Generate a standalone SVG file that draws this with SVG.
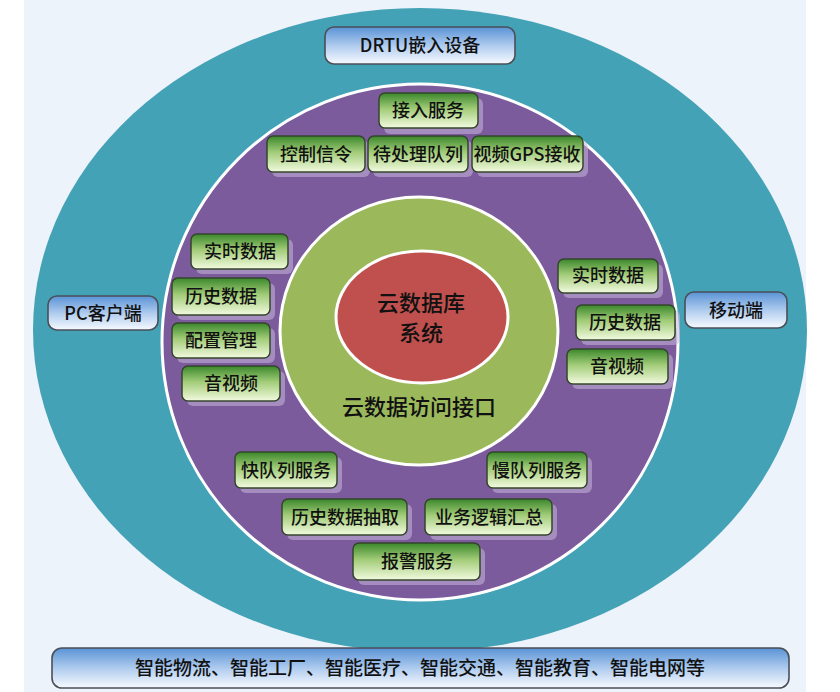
<svg xmlns="http://www.w3.org/2000/svg" width="840" height="692" viewBox="0 0 840 692">
<defs>
<linearGradient id="gg" x1="0" y1="0" x2="0" y2="1">
<stop offset="0" stop-color="#3a872b"/>
<stop offset="0.45" stop-color="#a2cc78"/>
<stop offset="1" stop-color="#f2fadf"/>
</linearGradient>
<linearGradient id="bg" x1="0" y1="0" x2="0" y2="1">
<stop offset="0" stop-color="#5a93d6"/>
<stop offset="0.55" stop-color="#b6d0f0"/>
<stop offset="1" stop-color="#f7faff"/>
</linearGradient>
<style>
.sh{fill:#c8b8dc;opacity:0.55}
.gb{fill:url(#gg);stroke:#34452c;stroke-width:1.5}
.bb{fill:url(#bg);stroke:#4a4f58;stroke-width:1.6}
text{font-family:"Noto Sans CJK SC","Liberation Sans",sans-serif;fill:#111;text-anchor:middle;font-weight:500}
.t{font-size:18px}
.tl{font-size:22px}
</style>
</defs>
<rect x="0" y="0" width="840" height="692" fill="#ffffff"/>
<rect x="24" y="0" width="782" height="692" fill="#edf3fb"/>
<g id="rings">
<ellipse cx="420" cy="330" rx="387" ry="322" fill="#43a2b6"/>
<circle cx="420" cy="342" r="258" fill="#7b5b9c" stroke="#ffffff" stroke-width="3"/>
<ellipse cx="419" cy="331" rx="139" ry="134" fill="#9bb95b" stroke="#ffffff" stroke-width="3"/>
<ellipse cx="422" cy="317" rx="86" ry="66" fill="#c0504d" stroke="#ffffff" stroke-width="3"/>
<text class="tl" x="421" y="311">云数据库</text>
<text class="tl" x="421" y="341">系统</text>
<text class="tl" x="419" y="415">云数据访问接口</text>
</g>
<g id="connectors"></g>
<g id="drtu"><rect class="bb" x="325" y="27" width="190" height="37" rx="9"/><text class="t" x="420" y="52">DRTU嵌入设备</text></g>
<g id="pc"><rect class="bb" x="48" y="296" width="110" height="34" rx="9"/><text class="t" x="103" y="320">PC客户端</text></g>
<g id="mobile"><rect class="bb" x="685" y="292" width="102" height="36" rx="9"/><text class="t" x="736" y="317">移动端</text></g>
<g id="apps"><rect class="bb" x="52" y="648" width="737" height="40" rx="10"/><text x="420" y="675" style="font-size:19px">智能物流、智能工厂、智能医疗、智能交通、智能教育、智能电网等</text></g>

<g id="g1"><rect class="sh" x="384" y="98" width="99" height="36" rx="6"/><rect class="gb" x="379" y="93" width="99" height="35" rx="6"/><text class="t" x="428" y="117">接入服务</text></g>
<g id="g2"><rect class="sh" x="272" y="141" width="98" height="36" rx="6"/><rect class="gb" x="267" y="136" width="98" height="36" rx="6"/><text class="t" x="316" y="161">控制信令</text></g>
<g id="g3"><rect class="sh" x="373" y="141" width="100" height="36" rx="6"/><rect class="gb" x="368" y="136" width="100" height="36" rx="6"/><text class="t" x="418" y="161">待处理队列</text></g>
<g id="g4"><rect class="sh" x="477" y="141" width="111" height="36" rx="6"/><rect class="gb" x="472" y="136" width="111" height="36" rx="6"/><text class="t" x="527" y="161">视频GPS接收</text></g>

<g id="l1"><rect class="sh" x="196" y="239" width="97" height="35" rx="6"/><rect class="gb" x="191" y="234" width="97" height="35" rx="6"/><text class="t" x="240" y="258">实时数据</text></g>
<g id="l2"><rect class="sh" x="177" y="283" width="98" height="37" rx="6"/><rect class="gb" x="172" y="278" width="98" height="37" rx="6"/><text class="t" x="221" y="303">历史数据</text></g>
<g id="l3"><rect class="sh" x="177" y="328" width="98" height="35" rx="6"/><rect class="gb" x="172" y="323" width="98" height="35" rx="6"/><text class="t" x="221" y="347">配置管理</text></g>
<g id="l4"><rect class="sh" x="187" y="371" width="98" height="35" rx="6"/><rect class="gb" x="182" y="366" width="98" height="35" rx="6"/><text class="t" x="231" y="390">音视频</text></g>

<g id="r1"><rect class="sh" x="563" y="264" width="100" height="34" rx="6"/><rect class="gb" x="558" y="259" width="100" height="34" rx="6"/><text class="t" x="608" y="282">实时数据</text></g>
<g id="r2"><rect class="sh" x="581" y="310" width="99" height="35" rx="6"/><rect class="gb" x="576" y="305" width="99" height="35" rx="6"/><text class="t" x="625" y="329">历史数据</text></g>
<g id="r3"><rect class="sh" x="572" y="354" width="101" height="35" rx="6"/><rect class="gb" x="567" y="349" width="101" height="35" rx="6"/><text class="t" x="617" y="373">音视频</text></g>

<g id="b1"><rect class="sh" x="240" y="457" width="102" height="36" rx="6"/><rect class="gb" x="235" y="452" width="102" height="36" rx="6"/><text class="t" x="286" y="477">快队列服务</text></g>
<g id="b2"><rect class="sh" x="492" y="457" width="100" height="36" rx="6"/><rect class="gb" x="487" y="452" width="100" height="36" rx="6"/><text class="t" x="537" y="477">慢队列服务</text></g>
<g id="b3"><rect class="sh" x="287" y="504" width="125" height="36" rx="6"/><rect class="gb" x="282" y="499" width="125" height="36" rx="6"/><text class="t" x="345" y="524">历史数据抽取</text></g>
<g id="b4"><rect class="sh" x="430" y="504" width="127" height="36" rx="6"/><rect class="gb" x="425" y="499" width="127" height="36" rx="6"/><text class="t" x="489" y="524">业务逻辑汇总</text></g>
<g id="b5"><rect class="sh" x="358" y="548" width="127" height="37" rx="6"/><rect class="gb" x="353" y="543" width="127" height="37" rx="6"/><text class="t" x="417" y="568">报警服务</text></g>
</svg>
